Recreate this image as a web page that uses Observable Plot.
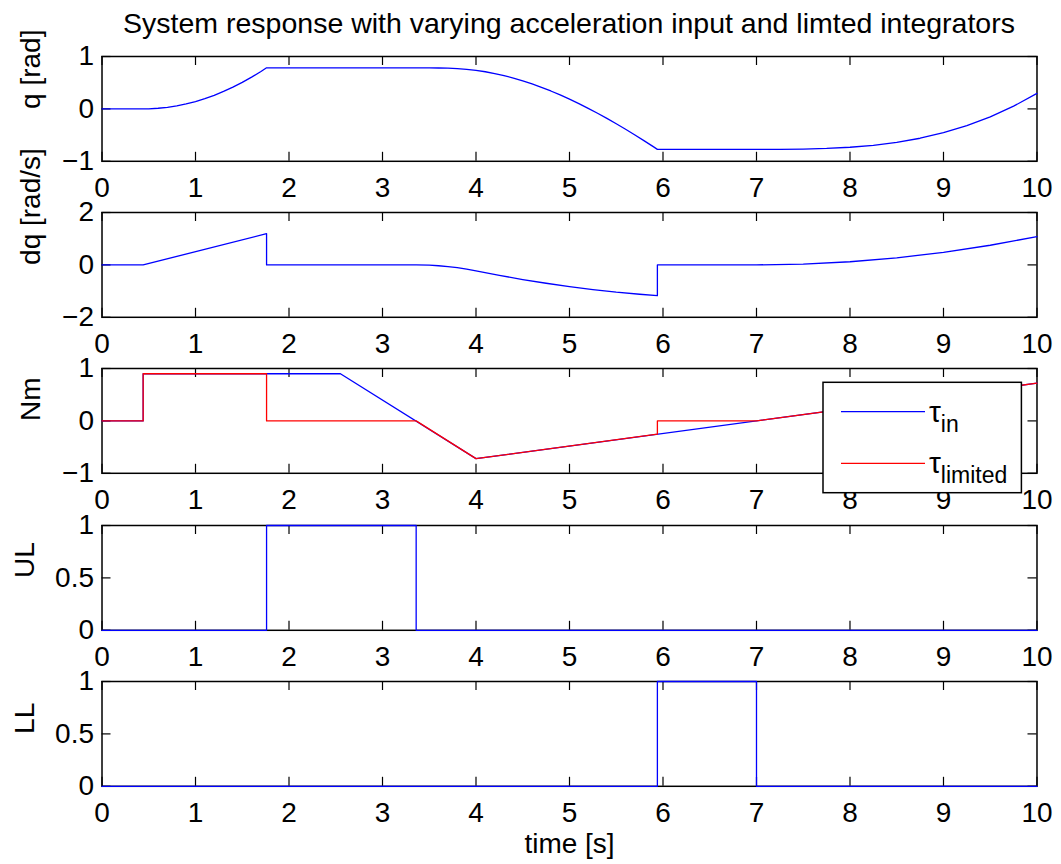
<!DOCTYPE html>
<html>
<head>
<meta charset="utf-8">
<script src="https://cdn.jsdelivr.net/npm/d3@7"></script>
<script src="https://cdn.jsdelivr.net/npm/@observablehq/plot@0.6"></script>
<style>
  body { margin: 0; background: #fff; }
  #fig { position: relative; width: 1061px; height: 864px; background: #fff;
         font-family: "Liberation Sans", Arial, Helvetica, sans-serif; color: #000; }
  #title { position: absolute; left: 101.5px; width: 935px; top: 9px; text-align: center;
           font-size: 28.5px; line-height: 1; white-space: nowrap; }
  #fig svg { position: absolute; left: 0; }
</style>
</head>
<body>
<div id="fig">
  <div id="title">System response with varying acceleration input and limted integrators</div>
</div>
<script>
// ---- shared time axis ----
const timeTicks = [0, 1, 2, 3, 4, 5, 6, 7, 8, 9, 10];

// ---- joint position q [rad] ----
const qTime = [0, 0.44, 0.5, 0.6, 0.7, 0.8, 0.9, 1.0, 1.1, 1.2, 1.3, 1.4, 1.5, 1.6, 1.7, 1.76,
  2.5, 3.36, 3.5, 3.6, 3.7, 3.8, 3.9, 4.0, 4.1, 4.2, 4.3, 4.4, 4.5, 4.6, 4.7, 4.8, 4.9, 5.0,
  5.1, 5.2, 5.3, 5.4, 5.5, 5.6, 5.7, 5.8, 5.9, 5.94,
  7.0, 7.25, 7.5, 7.75, 8.0, 8.25, 8.5, 8.75, 9.0, 9.25, 9.5, 9.75, 10];
const qValue = [0, 0, 0.002, 0.012, 0.03, 0.058, 0.095, 0.141, 0.196, 0.26, 0.333, 0.415, 0.506, 0.606, 0.714, 0.784,
  0.784, 0.784, 0.784, 0.781, 0.777, 0.768, 0.755, 0.735, 0.709, 0.675, 0.635, 0.588, 0.536, 0.477, 0.412, 0.342, 0.267, 0.186,
  0.101, 0.011, -0.083, -0.181, -0.284, -0.389, -0.498, -0.61, -0.725, -0.772,
  -0.772, -0.771, -0.767, -0.755, -0.732, -0.695, -0.638, -0.56, -0.455, -0.32, -0.152, 0.052, 0.295];

// ---- joint velocity dq [rad/s] ----
const dqTime = [0, 0.44, 1.76, 1.76, 3.36, 3.5, 3.6, 3.7, 3.8, 3.9, 4.0, 4.25, 4.5, 4.75, 5.0, 5.25, 5.5, 5.75, 5.94,
  5.94, 7.0, 7.5, 8.0, 8.5, 9.0, 9.5, 10];
const dqValue = [0, 0, 1.19, 0, 0, -0.011, -0.032, -0.065, -0.108, -0.163, -0.229, -0.4, -0.559, -0.7, -0.829, -0.94, -1.04, -1.12, -1.174,
  0, 0, 0.03, 0.12, 0.27, 0.48, 0.75, 1.08];

// ---- torque Nm: commanded and limited ----
const tauInTime = [0, 0.44, 0.44, 2.55, 4.0, 10];
const tauInValue = [0, 0, 0.9, 0.9, -0.72, 0.72];
const tauLimTime = [0, 0.44, 0.44, 1.76, 1.76, 3.36, 4.0, 5.94, 5.94, 7.0, 10];
const tauLimValue = [0, 0, 0.9, 0.9, 0, 0, -0.72, -0.254, 0, 0, 0.72];

// ---- upper / lower limit flags ----
const ulTime = [0, 1.76, 1.76, 3.36, 3.36, 10];
const ulValue = [0, 0, 1, 1, 0, 0];
const llTime = [0, 5.94, 5.94, 7.0, 7.0, 10];
const llValue = [0, 0, 1, 1, 0, 0];

const toRows = (ts, vs) => ts.map((t, i) => ({t, v: vs[i]}));
const fmt = d => String(d).replace("-", "\u2212");

const W = 1061;
const frameLeft = 101.5, frameRight = 1036.5;
const frameW = frameRight - frameLeft;
const frameH = 104.8, pitch = 156.2, firstTop = 56;
const BLUE = "#0000ff", RED = "#ff0000";
const fig = document.getElementById("fig");

const panels = [
  {ylabel: "q [rad]", yDomain: [-1, 1], yTicks: [-1, 0, 1], labelDx: -70.5,
   series: [{rows: toRows(qTime, qValue), color: BLUE}]},
  {ylabel: "dq [rad/s]", yDomain: [-2, 2], yTicks: [-2, 0, 2], labelDx: -70.5,
   series: [{rows: toRows(dqTime, dqValue), color: BLUE}]},
  {ylabel: "Nm", yDomain: [-1, 1], yTicks: [-1, 0, 1], labelDx: -70.5,
   series: [{rows: toRows(tauInTime, tauInValue), color: BLUE},
            {rows: toRows(tauLimTime, tauLimValue), color: RED}]},
  {ylabel: "UL", yDomain: [0, 1], yTicks: [0, 0.5, 1], labelDx: -77.3,
   series: [{rows: toRows(ulTime, ulValue), color: BLUE}]},
  {ylabel: "LL", yDomain: [0, 1], yTicks: [0, 0.5, 1], labelDx: -77.3, xlabel: "time [s]",
   series: [{rows: toRows(llTime, llValue), color: BLUE}]}
];

panels.forEach((p, i) => {
  const mt = 12, mb = p.xlabel ? 80 : 40;
  const top = firstTop + i * pitch;
  const marks = [
    Plot.frame({stroke: "black", strokeWidth: 1.5}),
    // inward ticks on all four sides
    Plot.ruleX(timeTicks, {x: d => d, insetBottom: frameH - 9, stroke: "black", strokeWidth: 1.2}),
    Plot.ruleX(timeTicks, {x: d => d, insetTop: frameH - 9, stroke: "black", strokeWidth: 1.2}),
    Plot.ruleY(p.yTicks, {y: d => d, insetRight: frameW - 9, stroke: "black", strokeWidth: 1.2}),
    Plot.ruleY(p.yTicks, {y: d => d, insetLeft: frameW - 9, stroke: "black", strokeWidth: 1.2}),
    Plot.axisX({ticks: timeTicks, tickSize: 0, tickPadding: 16, label: null, fill: "black", tickFormat: fmt}),
    Plot.axisY({ticks: p.yTicks, tickSize: 0, tickPadding: 8, label: null, fill: "black", tickFormat: fmt}),
    Plot.text([p.ylabel], {frameAnchor: "left", rotate: -90, dx: p.labelDx, lineAnchor: "middle",
                           text: d => d, fill: "black"}),
    ...p.series.map(s => Plot.line(s.rows, {x: "t", y: "v", stroke: s.color, strokeWidth: 1.3}))
  ];
  if (p.xlabel) {
    marks.push(Plot.text([p.xlabel], {frameAnchor: "bottom", dy: 58, lineAnchor: "middle",
                                      text: d => d, fill: "black"}));
  }
  const svg = Plot.plot({
    width: W,
    height: mt + frameH + mb,
    marginTop: mt, marginBottom: mb,
    marginLeft: frameLeft, marginRight: W - frameRight,
    x: {domain: [0, 10]},
    y: {domain: p.yDomain},
    style: {fontFamily: "'Liberation Sans', Arial, Helvetica, sans-serif", fontSize: "28px",
            background: "transparent", color: "black", overflow: "visible"},
    marks
  });
  svg.style.top = `${top - mt}px`;
  fig.appendChild(svg);
});

// legend box for the torque panel
const leg = d3.select(fig).append("svg")
  .attr("width", W).attr("height", 864)
  .style("top", "0px").style("pointer-events", "none")
  .style("font-family", "'Liberation Sans', Arial, Helvetica, sans-serif");
leg.append("rect").attr("x", 823).attr("y", 382.3).attr("width", 198.4).attr("height", 110.4)
  .attr("fill", "white").attr("stroke", "black").attr("stroke-width", 1.5);
const legendItems = [{name: "in", color: BLUE, y: 411.7}, {name: "limited", color: RED, y: 463.3}];
legendItems.forEach(it => {
  leg.append("line").attr("x1", 841).attr("x2", 925).attr("y1", it.y).attr("y2", it.y)
    .attr("stroke", it.color).attr("stroke-width", 1.3);
  const t = leg.append("text").attr("x", 929).attr("y", it.y + 10).attr("font-size", 30).attr("fill", "black");
  t.append("tspan").text("τ");
  t.append("tspan").attr("dy", 10).attr("font-size", 23).text(it.name);
});
</script>
</body>
</html>
